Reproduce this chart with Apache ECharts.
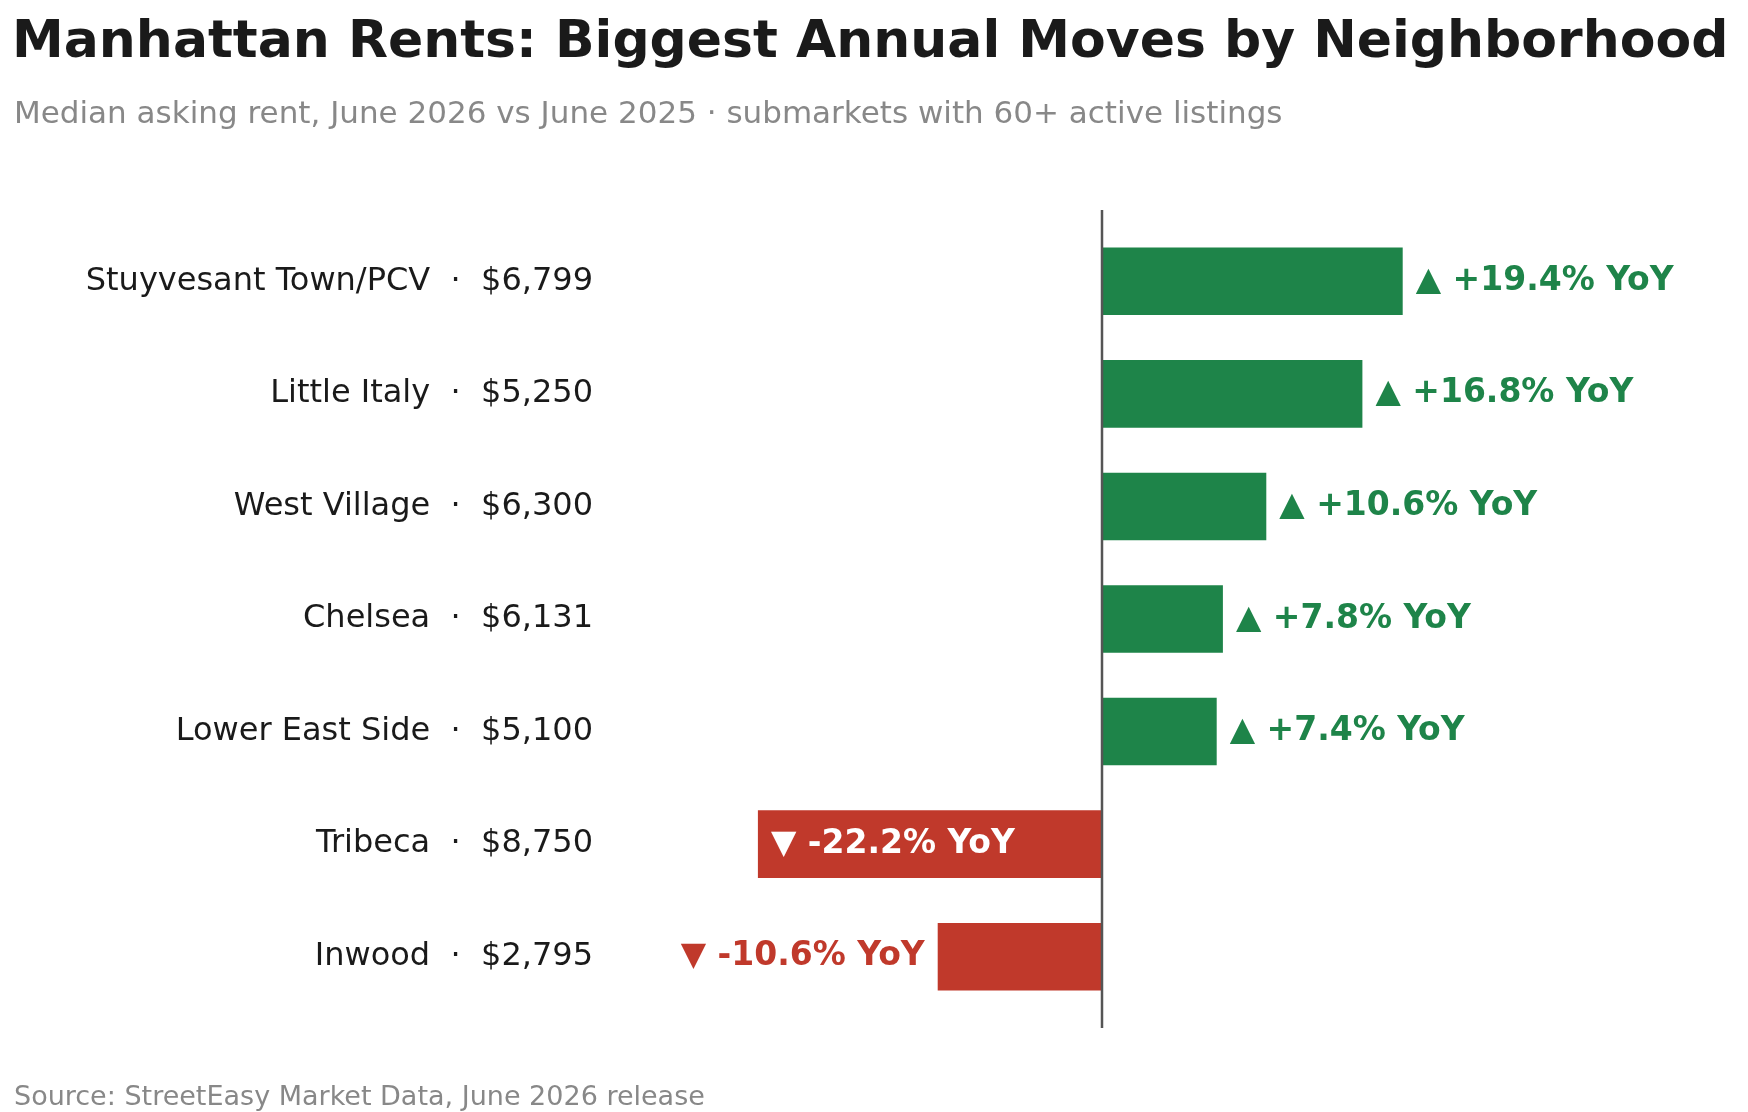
<!DOCTYPE html>
<html>
<head>
<meta charset="utf-8">
<script src="https://cdn.jsdelivr.net/npm/echarts@6/dist/echarts.min.js"></script>
<style>
  html, body { margin: 0; padding: 0; background: #fff; }
  #chart { width: 1748px; height: 1112px; }
</style>
</head>
<body>
<div id="chart"></div>
<script>
var neighborhoods = ['Stuyvesant Town/PCV', 'Little Italy', 'West Village', 'Chelsea', 'Lower East Side', 'Tribeca', 'Inwood'];
var medianRent = [6799, 5250, 6300, 6131, 5100, 8750, 2795];
var yoyChange = [19.4, 16.8, 10.6, 7.8, 7.4, -22.2, -10.6];

var GREEN = '#1e8449';
var RED = '#c0392b';
var FONT = 'DejaVu Sans';

function money(v) {
    return '$' + v.toLocaleString('en-US');
}

function yoyText(v) {
    return (v >= 0 ? '\u25B2 +' : '\u25BC ') + v.toFixed(1) + '% YoY';
}

var barData = yoyChange.map(function (v) {
    var color = v >= 0 ? GREEN : RED;
    // long declines get the label inside the bar, in white
    var inside = v < -15;
    return {
        value: v,
        itemStyle: { color: color },
        label: {
            position: inside ? 'insideLeft' : (v >= 0 ? 'right' : 'left'),
            color: inside ? '#ffffff' : color,
            distance: 13
        }
    };
});

var chart = echarts.init(document.getElementById('chart'));

var option = {
    animation: false,
    backgroundColor: '#ffffff',
    title: [
        {
            text: 'Manhattan Rents: Biggest Annual Moves by Neighborhood',
            left: 7,
            top: 12,
            textStyle: { fontFamily: FONT, fontSize: 52, fontWeight: 'bold', color: '#1a1a1a' }
        },
        {
            text: 'Median asking rent, June 2026 vs June 2025 \u00B7 submarkets with 60+ active listings',
            left: 9,
            top: 94,
            textStyle: { fontFamily: FONT, fontSize: 31, fontWeight: 'normal', color: '#888888' }
        },
        {
            text: 'Source: StreetEasy Market Data, June 2026 release',
            left: 9,
            top: 1079,
            textStyle: { fontFamily: FONT, fontSize: 27, fontWeight: 'normal', color: '#888888' }
        }
    ],
    grid: {
        left: 637,
        right: 181,
        top: 225,
        height: 788
    },
    xAxis: {
        type: 'value',
        min: -30,
        max: 30,
        show: false
    },
    yAxis: {
        type: 'category',
        inverse: true,
        data: neighborhoods,
        axisLine: { show: false },
        axisTick: { show: false },
        axisLabel: {
            margin: 44,
            fontFamily: FONT,
            fontSize: 32,
            color: '#1a1a1a',
            formatter: function (name, idx) {
                return name + '  \u00B7  ' + money(medianRent[idx]);
            }
        }
    },
    series: [
        {
            type: 'bar',
            data: barData,
            barCategoryGap: '40%',
            label: {
                show: true,
                fontFamily: FONT,
                fontSize: 33,
                fontWeight: 'bold',
                formatter: function (p) { return yoyText(p.value); }
            }
        }
    ]
};

chart.setOption(option);

// zero line, running a little past the first and last rows
var zeroTop = chart.convertToPixel({ gridIndex: 0 }, [0, 0]);
var gridRect = chart.getModel().getComponent('grid', 0).coordinateSystem.getRect();
chart.setOption({
    graphic: [{
        type: 'line',
        shape: { x1: zeroTop[0], y1: gridRect.y - 15, x2: zeroTop[0], y2: gridRect.y + gridRect.height + 15 },
        style: { stroke: '#555555', lineWidth: 2.5 },
        z: 10
    }]
});
</script>
</body>
</html>
